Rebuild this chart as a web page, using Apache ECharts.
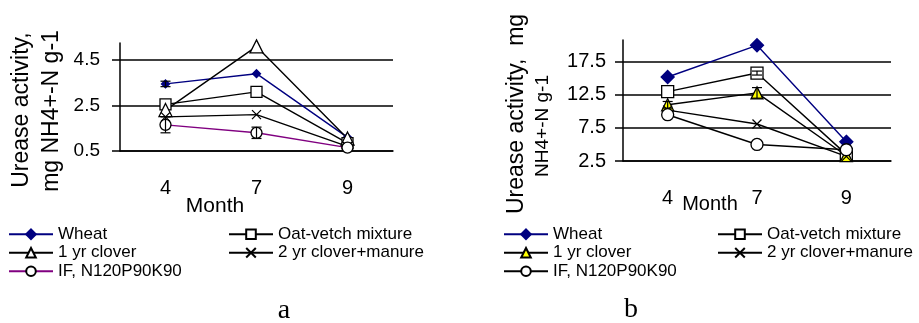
<!DOCTYPE html>
<html>
<head>
<meta charset="utf-8">
<script src="https://cdn.jsdelivr.net/npm/echarts@6/dist/echarts.min.js"></script>
<style>
  html, body { margin: 0; padding: 0; background: #fff; }
  #chart { width: 919px; height: 323px; }
</style>
</head>
<body>
<div id="chart"></div>
<script>
// months on the x axis (same for both panels)
var months = ['4', '7', '9']

// panel a
var wheatA = [3.45, 3.9, 1.1]
var oatA = [2.55, 3.1, 0.85]
var clover1A = [2.3, 5.1, 1.05]
var clover2A = [2.0, 2.1, 0.7]
var ifA = [1.65, 1.3, 0.65]
var wheatErrA = [0.12, 0, 0]
var ifErrA = [0.35, 0.25, 0]
var ticksA = [0.5, 2.5, 4.5]

// panel b
var wheatB = [15.2, 20.0, 5.4]
var oatB = [13.0, 15.8, 3.5]
var clover1B = [11.0, 12.8, 3.3]
var clover2B = [10.2, 8.1, 3.2]
var ifB = [9.5, 5.0, 4.2]
var oatErrB = [0, 0.3, 0]
var clover1ErrB = [0.5, 0.8, 0]
var ticksB = [2.5, 7.5, 12.5, 17.5]

var FONT = '"Liberation Sans", Arial, sans-serif'
var cross = 'path://M0,0L10,10M0,10L10,0'

function lineSeries (name, idx, data, lineColor, symbol, size, fill) {
  return {
    name: name,
    type: 'line',
    xAxisIndex: idx,
    yAxisIndex: idx,
    data: data,
    symbol: symbol,
    symbolSize: size,
    lineStyle: { color: lineColor, width: 1.4 },
    itemStyle: { color: fill, borderColor: lineColor === '#800080' ? '#000' : lineColor, borderWidth: 1.3 },
    z: 3
  }
}

function errSeries (idx, vals, errs) {
  var d = []
  vals.forEach(function (v, i) {
    if (errs[i] > 0) d.push([i, v, errs[i]])
  })
  return {
    type: 'custom',
    xAxisIndex: idx,
    yAxisIndex: idx,
    data: d,
    z: 4,
    renderItem: function (params, api) {
      var x = api.value(0), y = api.value(1), e = api.value(2)
      var t = api.coord([x, y + e])
      var b = api.coord([x, y - e])
      var w = 5
      var st = { stroke: '#000', lineWidth: 1.2 }
      return {
        type: 'group',
        children: [
          { type: 'line', shape: { x1: t[0], y1: t[1], x2: b[0], y2: b[1] }, style: st },
          { type: 'line', shape: { x1: t[0] - w, y1: t[1], x2: t[0] + w, y2: t[1] }, style: st },
          { type: 'line', shape: { x1: b[0] - w, y1: b[1], x2: b[0] + w, y2: b[1] }, style: st }
        ]
      }
    }
  }
}

function xAxisFor (idx) {
  return {
    type: 'category',
    gridIndex: idx,
    data: months,
    axisLine: { lineStyle: { color: '#000', width: 1.5 } },
    axisTick: { length: 6, lineStyle: { color: '#000', width: 1.5 } },
    axisLabel: { color: '#000', fontSize: 20, margin: 27, fontFamily: FONT },
    splitLine: { show: false }
  }
}

function yAxisFor (idx, min, max, ticks, fontSize, margin) {
  return {
    type: 'value',
    gridIndex: idx,
    min: min,
    max: max,
    axisLine: { show: true, lineStyle: { color: '#000', width: 1.5 } },
    axisTick: { show: true, length: 8, customValues: ticks, lineStyle: { color: '#000', width: 1.5 } },
    axisLabel: { customValues: ticks, color: '#000', fontSize: fontSize, margin: margin, fontFamily: FONT },
    splitLine: { show: true, lineStyle: { color: '#000', width: 1.5 } }
  }
}

function legendAt (left, names) {
  return {
    left: left,
    top: 225,
    orient: 'vertical',
    padding: 0,
    itemGap: 0,
    itemWidth: 44,
    itemHeight: 12,
    selectedMode: false,
    data: names,
    formatter: function (n) { return n.split('|')[1] },
    textStyle: { color: '#000', fontSize: 17, fontFamily: FONT, lineHeight: 18.5 }
  }
}

function vText (x, y, text, size) {
  return {
    type: 'text', x: x, y: y, rotation: Math.PI / 2,
    style: { text: text, fill: '#000', fontSize: size, fontFamily: FONT, align: 'center', verticalAlign: 'middle' }
  }
}

function hText (x, y, text, size, family) {
  return {
    type: 'text', x: x, y: y,
    style: { text: text, fill: '#000', fontSize: size, fontFamily: family || FONT, align: 'center', verticalAlign: 'middle' }
  }
}

var chart = echarts.init(document.getElementById('chart'))
chart.setOption({
  animation: false,
  grid: [
    { left: 120, top: 43, width: 273, height: 108 },
    { left: 623, top: 40, width: 268, height: 121 }
  ],
  xAxis: [xAxisFor(0), xAxisFor(1)],
  yAxis: [
    yAxisFor(0, 0.5, 5.25, ticksA, 19, 20),
    yAxisFor(1, 2.5, 20.8, ticksB, 20, 17)
  ],
  legend: [
    legendAt(8, ['a|Wheat', 'a|1 yr clover', 'a|IF, N120P90K90']),
    legendAt(228, ['a|Oat-vetch mixture', 'a|2 yr clover+manure']),
    legendAt(503, ['b|Wheat', 'b|1 yr clover', 'b|IF, N120P90K90']),
    legendAt(717, ['b|Oat-vetch mixture', 'b|2 yr clover+manure'])
  ],
  graphic: [
    vText(22, 110, 'Urease activity,', 23),
    vText(52, 111, 'mg NH4+-N g-1', 23),
    vText(517, 114, 'Urease activity,  mg', 23),
    vText(543, 126, 'NH4+-N g-1', 19),
    hText(215, 206, 'Month', 21),
    hText(710, 204, 'Month', 20),
    hText(284, 311, 'a', 28, '"Liberation Serif", serif'),
    hText(631, 310, 'b', 28, '"Liberation Serif", serif')
  ],
  series: [
    lineSeries('a|Wheat', 0, wheatA, '#000080', 'diamond', 8, '#000080'),
    lineSeries('a|Oat-vetch mixture', 0, oatA, '#000', 'rect', 11, '#fff'),
    lineSeries('a|1 yr clover', 0, clover1A, '#000', 'triangle', 13, '#fff'),
    lineSeries('a|2 yr clover+manure', 0, clover2A, '#000', cross, 9, 'none'),
    lineSeries('a|IF, N120P90K90', 0, ifA, '#800080', 'circle', 11, '#fff'),
    errSeries(0, wheatA, wheatErrA),
    errSeries(0, ifA, ifErrA),

    lineSeries('b|Wheat', 1, wheatB, '#000080', 'diamond', 13, '#000080'),
    lineSeries('b|Oat-vetch mixture', 1, oatB, '#000', 'rect', 12, '#fff'),
    lineSeries('b|1 yr clover', 1, clover1B, '#000', 'triangle', 12, '#ffff00'),
    lineSeries('b|2 yr clover+manure', 1, clover2B, '#000', cross, 9, 'none'),
    lineSeries('b|IF, N120P90K90', 1, ifB, '#000', 'circle', 12, '#fff'),
    errSeries(1, oatB, oatErrB),
    errSeries(1, clover1B, clover1ErrB)
  ]
})
</script>
</body>
</html>
